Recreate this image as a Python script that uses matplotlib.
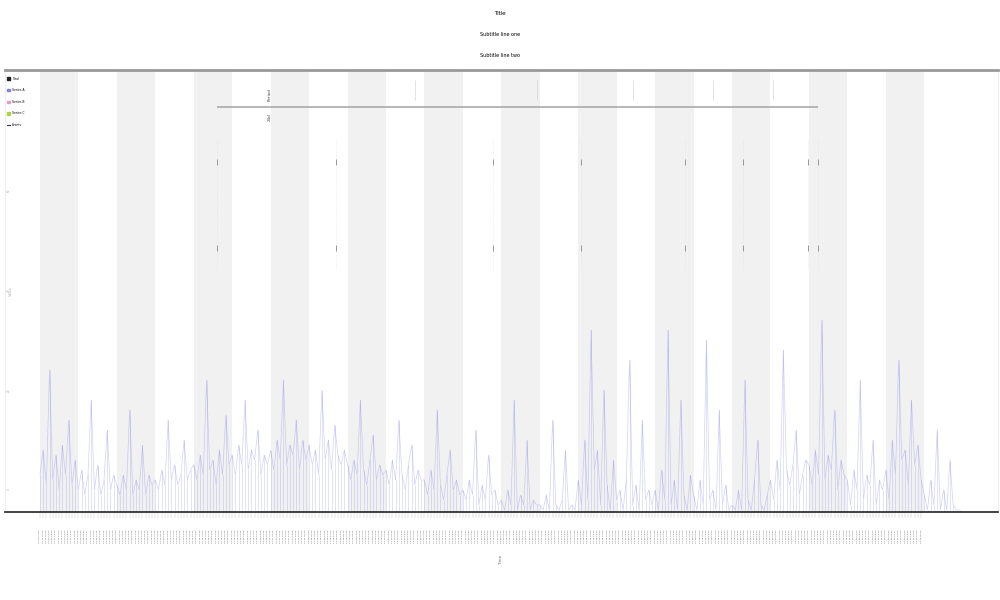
import numpy as np
import matplotlib
matplotlib.use("Agg")
import matplotlib.pyplot as plt
from matplotlib.patches import Patch
from matplotlib.lines import Line2D

# values read every 2 hours, 12 per day, 24 days
day_values = [
    [3, 8, 1, 24, 2, 7, 0, 9, 3, 14, 1, 6],
    [0, 4, -1, 3, 18, 0, 5, -1, 2, 12, 0, 3],
    [1, -1, 3, 0, 16, -1, 2, 0, 9, -1, 3, 1],
    [2, 0, 4, 1, 14, 2, 5, 1, 3, 10, 2, 4],
    [5, 2, 7, 3, 22, 4, 6, 1, 8, 3, 15, 5],
    [7, 3, 9, 5, 18, 4, 8, 6, 12, 3, 7, 5],
    [8, 4, 10, 6, 22, 5, 9, 7, 14, 4, 10, 6],
    [9, 5, 8, 3, 20, 6, 10, 4, 13, 7, 5, 8],
    [5, 2, 6, 3, 18, 4, 1, 6, 11, 2, 5, 3],
    [4, 1, 6, 2, 14, 3, 0, 5, 9, 1, 4, 2],
    [2, -1, 4, 0, 16, 1, -2, 3, 8, 0, 2, -1],
    [0, -2, 2, -1, 12, -3, 1, -2, 7, -1, 0, -3],
    [-2, -4, 0, -3, 18, -4, -1, -3, 10, -4, -2, -3],
    [-3, -4, -1, -4, 14, -3, -4, -2, 8, -4, -3, -4],
    [2, -3, 10, -2, 32, 4, 8, -3, 20, 1, -4, 6],
    [-2, 0, -4, 2, 26, -3, 1, -4, 14, -2, 0, -3],
    [0, -4, 4, -2, 32, -3, 2, -4, 18, -1, -4, 3],
    [-1, -4, 2, -3, 30, -2, 0, -4, 16, -3, 1, -4],
    [-3, -4, 0, -4, 22, -2, -4, 2, 10, -3, -4, -1],
    [2, -2, 6, 0, 28, 4, 1, 5, 12, -1, 3, 6],
    [5, 1, 8, 3, 34, 2, 7, 4, 16, 0, 6, 3],
    [2, -3, 4, 0, 22, -2, 3, 1, 10, -3, 2, 0],
    [4, -2, 10, 3, 26, 6, 8, 1, 18, 5, 9, 2],
    [-1, -4, 2, -3, 12, -4, 0, -4, 6, -3, -4, -4],
]
event_hours = [110.5, 184.8, 282.8, 337.7, 402.6, 438.8, 479.4, 485.6]
top_event_hours = [234, 310, 370, 420, 457.5]
span_start, span_end, span_level = 110.5, 485.6, 76.6
legend_names = ["Total", "Series A", "Series B", "Series C", "Events"]

values = np.array(day_values, dtype=float).ravel()
hours = np.arange(len(values)) * 2.0
n_days = len(day_values)

fig = plt.figure(figsize=(10, 6), dpi=100)
ax = fig.add_axes([0.005, 0.1467, 0.993, 0.7366])

# alternate day shading
for d in range(0, n_days, 2):
    ax.axvspan(d * 24, d * 24 + 24, color="#f1f1f1", lw=0, zorder=0)

ax.vlines(hours, -4.4, values, color="#8a8af0", lw=0.7, alpha=0.25, zorder=1)
ax.plot(hours, values, color="#6a6ae8", lw=0.5, alpha=0.3, zorder=2)

for h in event_hours:
    ax.vlines(h, 44, 70, color="#dddddd", lw=0.4, ls=":", zorder=2)
    ax.plot([h, h], [65.6, 48.4], ls="none", marker="|", ms=4, mew=0.6,
            color="#888888", zorder=3)
for h in top_event_hours:
    ax.vlines(h, 78, 82, color="#cccccc", lw=0.4, zorder=2)

ax.hlines(span_level, span_start, span_end, color="#aaaaaa", lw=1.2, zorder=3)
ax.text(143.6, span_level + 1.2, "Period", fontsize=3, rotation=90,
        ha="center", va="bottom", color="#444444")
ax.text(143.6, span_level - 1.2, "24d", fontsize=3, rotation=90,
        ha="center", va="top", color="#444444")

ax.set_xlim(-21.8, 598)
ax.set_ylim(-4.4, 84)

tick_hours = np.arange(0, 23 * 24, 2)
tick_labels = ["%02d-%02d %02d:00" % (3, 1 + int(t // 24), int(t % 24)) for t in tick_hours]
ax.set_xticks(tick_hours)
ax.set_xticklabels(tick_labels, rotation=90, fontsize=1.6, color="#555555")
ax.tick_params(axis="x", length=4, width=0.3, color="#bbbbbb", pad=9)
ax.set_yticks([0, 20, 40, 60])
ax.tick_params(axis="y", direction="in", labelsize=2, pad=-4, length=0,
               labelcolor="#aaaaaa")
for lab in ax.get_yticklabels():
    lab.set_rotation(90)
ax.set_ylabel("Value", fontsize=2.5, color="#aaaaaa", labelpad=-6)
ax.set_xlabel("Time", fontsize=3, rotation=90, color="#666666", labelpad=8)

ax.spines["top"].set_color("#999999")
ax.spines["top"].set_linewidth(2)
ax.spines["bottom"].set_color("#222222")
ax.spines["bottom"].set_linewidth(1.2)
ax.spines["left"].set_color("#eeeeee")
ax.spines["right"].set_color("#eeeeee")

handles = [Patch(color="#222222"), Patch(color="#8080e0"), Patch(color="#e0a0c0"),
           Patch(color="#b0d040"), Line2D([0], [0], color="#333333", lw=0.8)]
ax.legend(handles, legend_names, loc="upper left", fontsize=2.2, frameon=False,
          handlelength=0.8, handleheight=0.8, labelspacing=2.5,
          borderaxespad=0.3, bbox_to_anchor=(0.0, 0.99))

fig.text(0.5, 0.977, "Title", ha="center", va="center", fontsize=4)
fig.text(0.5, 0.942, "Subtitle line one", ha="center", va="center", fontsize=3.5)
fig.text(0.5, 0.908, "Subtitle line two", ha="center", va="center", fontsize=3.5)

fig.savefig("out.png", dpi=100)
